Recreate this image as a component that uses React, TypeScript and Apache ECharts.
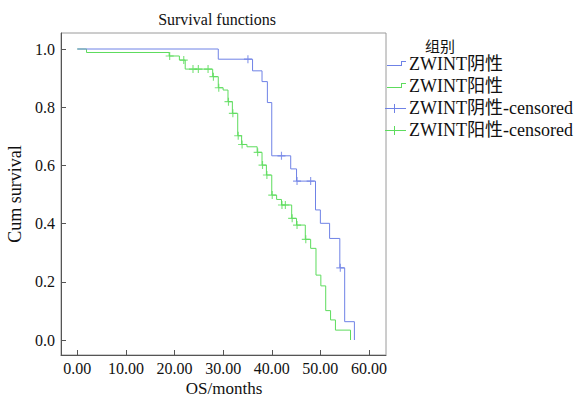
import React, { useEffect, useRef } from "react";
import * as echarts from "echarts";

const xTickValues = [0, 10, 20, 30, 40, 50, 60];
const yTickValues = [0, 0.2, 0.4, 0.6, 0.8, 1.0];

const negTimes = [0, 29.0, 36.05, 38.0, 39.1, 40.0, 43.9, 45.1, 49.0, 50.0, 51.9, 54.0, 55.0, 57.0];
const negSurv = [1.0, 0.965, 0.925, 0.888, 0.816, 0.633, 0.588, 0.546, 0.447, 0.401, 0.349, 0.248, 0.063, 0.0];
const negCensorTimes = [35.1, 42.0, 45.2, 48.0, 54.1];
const negCensorSurv = [0.965, 0.633, 0.546, 0.546, 0.248];

const posTimes = [0, 1.9, 18.9, 21.0, 22.2, 27.85, 29.0, 30.0, 31.0, 31.9, 33.0, 33.8, 34.9, 37.0, 38.0, 38.9, 40.0, 41.0, 42.0, 44.1, 45.1, 46.9, 48.0, 49.1, 50.1, 51.1, 52.1, 53.1, 56.2];
const posSurv = [1.0, 0.988, 0.976, 0.962, 0.931, 0.905, 0.867, 0.859, 0.819, 0.779, 0.702, 0.672, 0.664, 0.645, 0.601, 0.567, 0.498, 0.483, 0.464, 0.418, 0.395, 0.346, 0.315, 0.223, 0.186, 0.101, 0.069, 0.034, 0.0];
const posCensorTimes = [19.0, 21.9, 23.8, 24.9, 26.9, 28.0, 29.1, 31.1, 32.0, 33.1, 33.9, 37.1, 38.1, 39.0, 40.1, 42.1, 42.8, 44.2, 45.2, 47.0];
const posCensorSurv = [0.976, 0.962, 0.931, 0.931, 0.931, 0.905, 0.867, 0.819, 0.779, 0.702, 0.672, 0.645, 0.601, 0.567, 0.498, 0.464, 0.464, 0.418, 0.395, 0.346];

const chartTitle = "Survival functions";
const xAxisName = "OS/months";
const yAxisName = "Cum survival";
const legendTitle = "组别";
const legendNames = ["ZWINT阴性", "ZWINT阳性", "ZWINT阴性-censored", "ZWINT阳性-censored"];

const BLUE = "#6f82e6";
const GREEN = "#5ddc5d";
const FONT = '"Liberation Serif", "Noto Sans CJK SC", serif';
const PLUS = "path://M3,0h1v3h3v1h-3v3h-1v-3h-3v-1h3z";

function zip(a: number[], b: number[]) {
  return a.map((v, i) => [v, b[i]]);
}

export default function App() {
  const ref = useRef<HTMLDivElement>(null);
  useEffect(() => {
    if (!ref.current) return;
    const chart = echarts.init(ref.current, null, { renderer: "svg" });
    const legendX = 409;
    const rowsY = [64, 86, 108, 130];
    const graphics: any[] = [
      {
        type: "text",
        x: 217,
        y: 19,
        style: { text: chartTitle, font: `16px ${FONT}`, fill: "#111", textAlign: "center", textVerticalAlign: "middle" },
      },
      {
        type: "text",
        x: 224,
        y: 388,
        style: { text: xAxisName, font: `17px ${FONT}`, fill: "#111", textAlign: "center", textVerticalAlign: "middle" },
      },
      {
        type: "text",
        x: 425,
        y: 47,
        style: { text: legendTitle, font: `15px ${FONT}`, fill: "#111", textVerticalAlign: "middle" },
      },
    ];
    const box = (x: number, y: number, width: number, height: number, color: string) => ({
      type: "rect",
      z: 10,
      shape: { x, y, width, height },
      style: { fill: color, stroke: null },
    });
    legendNames.forEach((name, i) => {
      const y = rowsY[i];
      const color = i % 2 === 0 ? BLUE : GREEN;
      graphics.push({
        type: "text",
        x: legendX,
        y,
        style: { text: name, font: `18px ${FONT}`, fill: "#111", textVerticalAlign: "middle" },
      });
      if (i < 2) {
        graphics.push(box(387, y + 1, 15, 1, color));
        graphics.push(box(401, y - 3, 1, 5, color));
        graphics.push(box(401, y - 3, 5, 1, color));
      } else {
        graphics.push(box(385, y, 21, 1, color));
        graphics.push(box(394, y - 4, 1, 9, color));
      }
    });

    chart.setOption({
      animation: false,
      backgroundColor: "#fff",
      grid: {
        left: 61,
        right: 191,
        top: 33,
        bottom: 42,
        show: true,
        borderColor: "#9a9a9a",
        borderWidth: 1,
        containLabel: false,
        outerBoundsMode: "none",
      },
      xAxis: {
        type: "value",
        min: -3.35,
        max: 63.5,
        axisLine: { show: true, onZero: false, lineStyle: { color: "#555", width: 1 } },
        axisTick: { show: true, inside: true, length: 5, customValues: xTickValues, lineStyle: { color: "#555" } },
        axisLabel: {
          customValues: xTickValues,
          formatter: (v: number) => v.toFixed(2),
          fontFamily: FONT,
          fontSize: 16,
          color: "#111",
          margin: 5,
        },
        splitLine: { show: false },
      },
      yAxis: {
        type: "value",
        min: -0.0515,
        max: 1.055,
        name: yAxisName,
        nameLocation: "middle",
        nameGap: 32,
        nameRotate: 90,
        nameTextStyle: { fontFamily: FONT, fontSize: 18, color: "#111" },
        axisLine: { show: true, onZero: false, lineStyle: { color: "#555", width: 1 } },
        axisTick: { show: true, inside: true, length: 5, customValues: yTickValues, lineStyle: { color: "#555" } },
        axisLabel: {
          customValues: yTickValues,
          formatter: (v: number) => v.toFixed(1),
          fontFamily: FONT,
          fontSize: 16,
          color: "#111",
          margin: 6,
        },
        splitLine: { show: false },
      },
      series: [
        {
          name: legendNames[0],
          type: "line",
          step: "end",
          symbol: "none",
          data: zip(negTimes, negSurv),
          lineStyle: { color: BLUE, width: 1 },
          itemStyle: { color: BLUE },
          z: 3,
        },
        {
          name: legendNames[1],
          type: "line",
          step: "end",
          symbol: "none",
          data: zip(posTimes, posSurv),
          lineStyle: { color: GREEN, width: 1 },
          itemStyle: { color: GREEN },
          z: 2,
        },
        {
          name: legendNames[2],
          type: "scatter",
          symbol: PLUS,
          symbolSize: 8,
          data: zip(negCensorTimes, negCensorSurv),
          itemStyle: { color: BLUE },
          z: 4,
        },
        {
          name: legendNames[3],
          type: "scatter",
          symbol: PLUS,
          symbolSize: 8,
          data: zip(posCensorTimes, posCensorSurv),
          itemStyle: { color: GREEN },
          z: 4,
        },
      ],
      graphic: graphics,
    });
    return () => chart.dispose();
  }, []);
  return (
    <div
      ref={ref}
      style={{ position: "fixed", left: 0, top: 0, width: 577, height: 397 }}
    />
  );
}
